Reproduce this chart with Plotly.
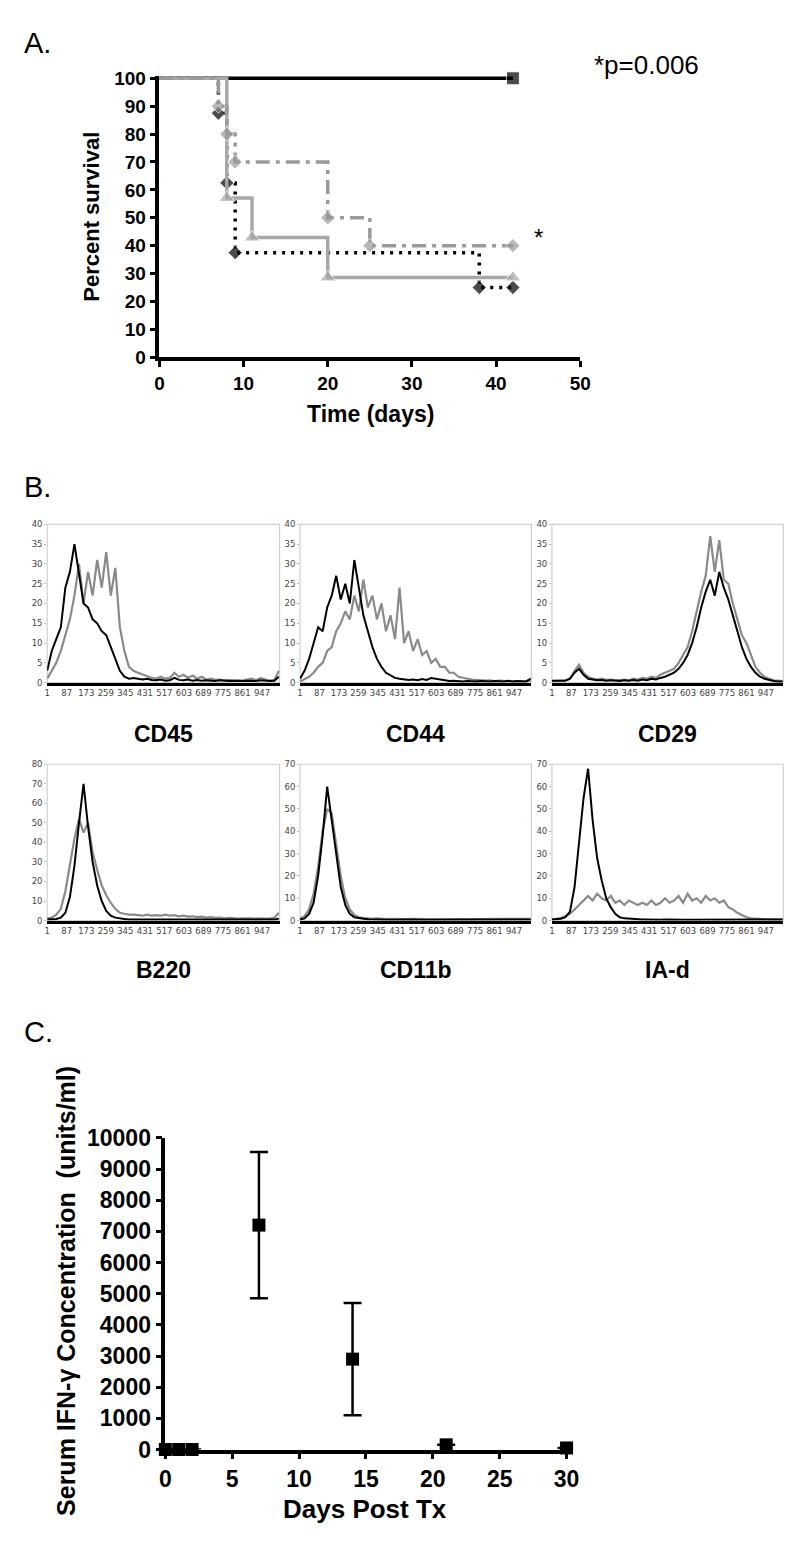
import plotly.graph_objects as go

# ---------------- Panel A data (Kaplan-Meier) ----------------
ctrl_days = [0, 42]
ctrl_surv = [100, 100]
dot_days = [0, 7, 8, 9, 38, 42]
dot_surv = [100, 87.5, 62.5, 37.5, 25, 25]
dashdot_days = [0, 7, 8, 9, 20, 25, 42]
dashdot_surv = [100, 90, 80, 70, 50, 40, 40]
tri_days = [0, 8, 11, 20, 42]
tri_surv = [100, 57.1, 42.9, 28.6, 28.6]

# ---------------- Panel B data (flow histograms) ----------------
channels = [1, 21, 41, 61, 81, 101, 121, 141, 161, 181,
            201, 221, 241, 261, 281, 301, 321, 341, 361, 381,
            401, 421, 441, 461, 481, 501, 521, 541, 561, 581,
            601, 621, 641, 661, 681, 701, 721, 741, 761, 781,
            801, 821, 841, 861, 881, 901, 921, 941, 961, 981,
            1001, 1021]
hist_ticks = [1, 87, 173, 259, 345, 431, 517, 603, 689, 775, 861, 947]

cd45_black = [3, 8, 11, 14, 24, 28, 35, 27, 20, 19,
              16, 15, 13, 12, 9, 6, 3, 1.5, 1, 1.2,
              1, 0.8, 1, 0.7, 0.6, 0.8, 0.5, 0.6, 1.2, 0.7,
              0.6, 0.8, 0.5, 0.7, 0.5, 0.6, 0.5, 0.4, 0.6, 0.5,
              0.4, 0.5, 0.4, 0.4, 0.5, 0.4, 0.4, 0.6, 0.5, 0.4,
              0.5, 1.5]
cd45_gray = [1, 3, 5, 8, 12, 16, 22, 30, 20, 28,
             22, 31, 24, 33, 22, 29, 14, 8, 4, 3,
             2.5, 2, 1.5, 1.2, 1, 1.5, 1, 1.2, 2.5, 1.5,
             2, 1.2, 1.8, 1, 1.5, 0.8, 1, 0.7, 0.8, 0.6,
             0.7, 0.5, 0.6, 0.5, 0.8, 1, 0.6, 1.2, 0.8, 0.5,
             0.7, 3]
cd44_black = [1, 3, 6, 10, 14, 13, 19, 22, 27, 21,
              25, 20, 31, 24, 17, 13, 9, 6, 4, 2.5,
              1.8, 1.2, 1, 0.8, 0.7, 0.8, 0.6, 0.9, 0.7, 1.2,
              1, 0.7, 0.5, 0.4, 0.5, 0.4, 0.3, 0.4, 0.3, 0.3,
              0.4, 0.3, 0.3, 0.4, 0.3, 0.3, 0.5, 0.3, 0.4, 0.3,
              0.3, 1]
cd44_gray = [0.3, 0.8, 1.5, 2.5, 4, 5, 8, 9, 13, 15,
             18, 16, 22, 18, 26, 19, 22, 16, 20, 13,
             17, 11, 24, 10, 13, 8, 11, 7, 8, 5,
             6, 4, 4, 2.5, 2.5, 1.5, 1.2, 1, 0.8, 0.7,
             0.6, 0.5, 0.6, 0.4, 0.5, 0.4, 0.4, 0.3, 0.4, 0.3,
             0.4, 0.5]
cd29_black = [0.5, 0.5, 0.6, 0.5, 1, 2.5, 3.5, 2, 1, 0.8,
              0.6, 0.7, 0.5, 0.6, 0.5, 0.4, 0.6, 0.5, 0.7, 0.5,
              0.8, 0.6, 1, 0.8, 1.2, 1.5, 2, 2.5, 3.5, 5,
              7, 10, 14, 19, 23, 26, 22, 28, 24, 21,
              17, 13, 9, 6, 4, 2.5, 1.5, 1, 0.6, 0.4,
              0.3, 0.3]
cd29_gray = [0.4, 0.5, 0.5, 0.6, 1, 3, 4.5, 2.5, 1.5, 1,
             0.8, 1, 0.7, 0.8, 0.6, 0.7, 0.8, 0.6, 1, 0.8,
             1.2, 1, 1.5, 1.2, 2, 2.5, 3, 3.5, 5, 7,
             9, 13, 18, 23, 27, 37, 28, 36, 26, 25,
             20, 16, 12, 10, 7, 4, 2.5, 1.5, 1, 0.6,
             0.5, 0.4]
b220_black = [0.5, 0.6, 0.8, 1.5, 4, 12, 28, 50, 70, 48,
              30, 18, 10, 5, 2.5, 1.5, 1, 0.8, 0.6, 0.5,
              0.5, 0.6, 0.5, 0.5, 0.6, 0.5, 0.5, 0.6, 0.5, 0.5,
              0.5, 0.4, 0.5, 0.4, 0.5, 0.4, 0.4, 0.5, 0.4, 0.4,
              0.4, 0.4, 0.4, 0.4, 0.4, 0.4, 0.4, 0.4, 0.4, 0.4,
              0.5, 1]
b220_gray = [1, 1.5, 3, 6, 15, 28, 42, 52, 45, 50,
             35, 26, 18, 13, 9, 6, 4, 3.5, 3, 3,
             2.8, 2.5, 3, 2.5, 2.8, 2.5, 3, 2.5, 2.8, 2.2,
             2.5, 2, 2.2, 1.8, 2, 1.5, 1.8, 1.4, 1.5, 1.2,
             1.4, 1.2, 1, 1.2, 1, 1.1, 1, 1.2, 1, 1,
             1.5, 4]
cd11b_black = [0.5, 1, 3, 8, 20, 38, 60, 45, 30, 15,
               7, 3, 1.5, 1, 0.8, 0.6, 0.5, 0.5, 0.4, 0.5,
               0.4, 0.4, 0.5, 0.4, 0.4, 0.5, 0.4, 0.4, 0.4, 0.4,
               0.4, 0.4, 0.4, 0.4, 0.4, 0.4, 0.4, 0.4, 0.4, 0.4,
               0.4, 0.4, 0.4, 0.4, 0.4, 0.4, 0.4, 0.4, 0.4, 0.4,
               0.4, 0.5]
cd11b_gray = [1, 2, 5, 12, 24, 40, 50, 48, 34, 20,
              10, 5, 2.5, 1.5, 1.2, 1, 0.8, 1, 0.8, 0.7,
              0.8, 0.7, 0.8, 0.6, 0.7, 0.8, 0.6, 0.7, 0.6, 0.6,
              0.7, 0.6, 0.6, 0.5, 0.6, 0.5, 0.5, 0.6, 0.5, 0.5,
              0.5, 0.5, 0.5, 0.5, 0.5, 0.5, 0.5, 0.5, 0.5, 0.5,
              0.5, 0.8]
iad_black = [0.5, 0.5, 0.8, 1.5, 4, 15, 35, 55, 68, 45,
             28, 18, 10, 6, 3, 1.5, 1, 0.8, 0.6, 0.5,
             0.5, 0.5, 0.4, 0.5, 0.4, 0.5, 0.4, 0.4, 0.5, 0.4,
             0.4, 0.4, 0.4, 0.4, 0.4, 0.4, 0.4, 0.4, 0.4, 0.4,
             0.4, 0.4, 0.4, 0.4, 0.4, 0.4, 0.4, 0.4, 0.4, 0.4,
             0.4, 0.5]
iad_gray = [0.5, 0.8, 1.2, 2, 3, 5, 7, 9, 11, 9,
            12, 10, 9, 11, 8, 9, 7, 9, 8, 7,
            8, 7, 9, 7, 8, 10, 8, 9, 11, 8,
            12, 9, 10, 8, 11, 9, 10, 8, 9, 6,
            5, 3.5, 2.5, 1.5, 1, 0.8, 0.6, 0.5, 0.5, 0.4,
            0.4, 0.5]

hist_panels = [
    ("CD45", cd45_black, cd45_gray, 40, 5),
    ("CD44", cd44_black, cd44_gray, 40, 5),
    ("CD29", cd29_black, cd29_gray, 40, 5),
    ("B220", b220_black, b220_gray, 80, 10),
    ("CD11b", cd11b_black, cd11b_gray, 70, 10),
    ("IA-d", iad_black, iad_gray, 70, 10),
]

# ---------------- Panel C data ----------------
ifn_days = [0, 1, 2, 7, 14, 21, 30]
ifn_mean = [0, 0, 0, 7200, 2900, 150, 50]
ifn_err = [0, 0, 0, 2350, 1800, 0, 0]

# ---------------- layout helpers ----------------
W, H = 800, 1543


def dx(a, b):
    return [a / W, b / W]


def dy(top, bottom):
    return [1 - bottom / H, 1 - top / H]


BOLD = dict(family="Liberation Sans, Arial, sans-serif", color="black", weight="bold")
PLAIN = dict(family="Liberation Sans, Arial, sans-serif", color="black")

fig = go.Figure()
layout = dict(
    width=W, height=H, margin=dict(l=0, r=0, t=0, b=0),
    paper_bgcolor="white", plot_bgcolor="white", showlegend=False,
)

# ---------- Panel A ----------
GRAY1 = "#9a9a9a"
GRAY2 = "#a8a8a8"
fig.add_trace(go.Scatter(x=ctrl_days, y=ctrl_surv, mode="lines+markers", line=dict(color="black", width=3.5),
                         marker=dict(symbol="square", size=[0, 13], color="black"),
                         xaxis="x", yaxis="y", cliponaxis=False))
fig.add_trace(go.Scatter(x=dot_days, y=dot_surv, mode="lines+markers",
                         line=dict(color="black", width=3.5, shape="hv", dash="3px,6px"),
                         marker=dict(symbol="diamond", size=[0, 11, 11, 11, 11, 11], color="black"),
                         xaxis="x", yaxis="y", cliponaxis=False))
fig.add_trace(go.Scatter(x=tri_days, y=tri_surv, mode="lines+markers", line=dict(color=GRAY2, width=3.5, shape="hv"),
                         marker=dict(symbol="triangle-up", size=[0, 14, 14, 14, 14], color=GRAY2),
                         xaxis="x", yaxis="y", cliponaxis=False))
fig.add_trace(go.Scatter(x=dashdot_days, y=dashdot_surv, mode="lines+markers",
                         line=dict(color=GRAY1, width=3.5, shape="hv", dash="14px,6px,4px,6px"),
                         marker=dict(symbol="diamond", size=[0, 11, 11, 11, 11, 11, 11], color=GRAY1),
                         xaxis="x", yaxis="y", cliponaxis=False))

axA = dict(showline=True, linecolor="black", linewidth=3.5, ticks="outside", ticklen=6, tickwidth=3,
           tickcolor="black", showgrid=False, zeroline=False, tickfont=dict(size=19, **BOLD))
layout["xaxis"] = dict(domain=dx(149, 580), range=[0, 50], tickvals=[0, 10, 20, 30, 40, 50], anchor="y", **axA)
layout["yaxis"] = dict(domain=dy(56, 342), range=[0, 100.8], tickvals=list(range(0, 101, 10)), anchor="x", **axA)

annotations = [
    dict(text="A.", x=8 / W, y=1 - 22 / H, xref="paper", yref="paper", xanchor="left", yanchor="middle",
         showarrow=False, font=dict(size=29, **PLAIN)),
    dict(text="*p=0.006", x=592 / W, y=1 - 45 / H, xref="paper", yref="paper", xanchor="left", yanchor="middle",
         showarrow=False, font=dict(size=26, **PLAIN)),
    dict(text="*", x=44.3, y=43, xref="x", yref="y", xanchor="left", yanchor="middle",
         showarrow=False, font=dict(size=24, **PLAIN)),
    dict(text="Percent survival", x=80 / W, y=1 - 199 / H, xref="paper", yref="paper", textangle=-90,
         xanchor="center", yanchor="middle", showarrow=False, font=dict(size=22, **BOLD)),
    dict(text="Time (days)", x=365 / W, y=1 - 400 / H, xref="paper", yref="paper",
         xanchor="center", yanchor="middle", showarrow=False, font=dict(size=23, **BOLD)),
    dict(text="B.", x=8 / W, y=1 - 474 / H, xref="paper", yref="paper", xanchor="left", yanchor="middle",
         showarrow=False, font=dict(size=29, **PLAIN)),
    dict(text="C.", x=8 / W, y=1 - 1028 / H, xref="paper", yref="paper", xanchor="left", yanchor="middle",
         showarrow=False, font=dict(size=29, **PLAIN)),
]
shapes = []

# ---------- Panel B ----------
cols = [(34, 272), (293, 530), (551, 788)]
rows = [(512, 673, 725), (756, 915, 965)]
HGRAY = "#8a8a8a"
for i, (name, blk, gry, ymax, dt) in enumerate(hist_panels):
    n = i + 2
    c0, c1 = cols[i % 3]
    r0, r1, rt = rows[i // 3]
    xa, ya = f"x{n}", f"y{n}"
    fig.add_trace(go.Scatter(x=channels, y=gry, mode="lines", line=dict(color=HGRAY, width=2.2),
                             xaxis=xa, yaxis=ya))
    fig.add_trace(go.Scatter(x=channels, y=blk, mode="lines", line=dict(color="black", width=2),
                             xaxis=xa, yaxis=ya))
    layout[f"xaxis{n}"] = dict(domain=dx(c0, c1), range=[1, 1024], anchor=ya, tickvals=hist_ticks,
                               showline=True, linecolor="black", linewidth=3, ticks="",
                               showgrid=False, zeroline=False,
                               tickfont=dict(size=8.5, color="#444", family="DejaVu Sans"))
    layout[f"yaxis{n}"] = dict(domain=dy(r0, r1), range=[0, ymax], anchor=xa, dtick=dt,
                               showline=False, ticks="outside", ticklen=2, tickcolor="#bbb",
                               showgrid=False, zeroline=False,
                               tickfont=dict(size=8.5, color="#444", family="DejaVu Sans"))
    shapes.append(dict(type="rect", xref=f"{xa} domain", yref=f"{ya} domain", x0=0, x1=1, y0=0, y1=1,
                       line=dict(color="#cfcfcf", width=1.2), layer="below"))
    annotations.append(dict(text=name, x=(c0 + c1) / 2 / W, y=1 - rt / H, xref="paper", yref="paper",
                            xanchor="center", yanchor="middle", showarrow=False,
                            font=dict(size=23, **BOLD)))

# ---------- Panel C ----------
fig.add_trace(go.Scatter(x=ifn_days, y=ifn_mean, mode="markers",
                         marker=dict(symbol="square", size=13, color="black"),
                         error_y=dict(type="data", array=ifn_err, arrayminus=ifn_err, symmetric=False,
                                      color="black", thickness=2.5, width=9),
                         xaxis="x8", yaxis="y8", cliponaxis=False))
axC = dict(showline=True, linecolor="black", linewidth=3.5, ticks="outside", ticklen=6, tickwidth=3,
           tickcolor="black", showgrid=False, zeroline=False, tickfont=dict(size=23, **BOLD))
layout["xaxis8"] = dict(domain=dx(155, 566), range=[0, 30], dtick=5, anchor="y8", **axC)
layout["yaxis8"] = dict(domain=dy(1136, 1453), range=[0, 10000], dtick=1000, tickformat="d",
                        ticklabelstandoff=0, anchor="x8", **axC)
annotations += [
    dict(text="Serum IFN-\u03b3 Concentration \u00a0(units/ml)", x=54 / W, y=1 - 1292 / H, xref="paper",
         yref="paper", textangle=-90, xanchor="center", yanchor="middle", showarrow=False,
         font=dict(size=25, **BOLD)),
    dict(text="Days Post Tx", x=360 / W, y=1 - 1514 / H, xref="paper", yref="paper",
         xanchor="center", yanchor="middle", showarrow=False, font=dict(size=26, **BOLD)),
]

layout["annotations"] = annotations
layout["shapes"] = shapes
fig.update_layout(**layout)
fig.write_html("out.html")
